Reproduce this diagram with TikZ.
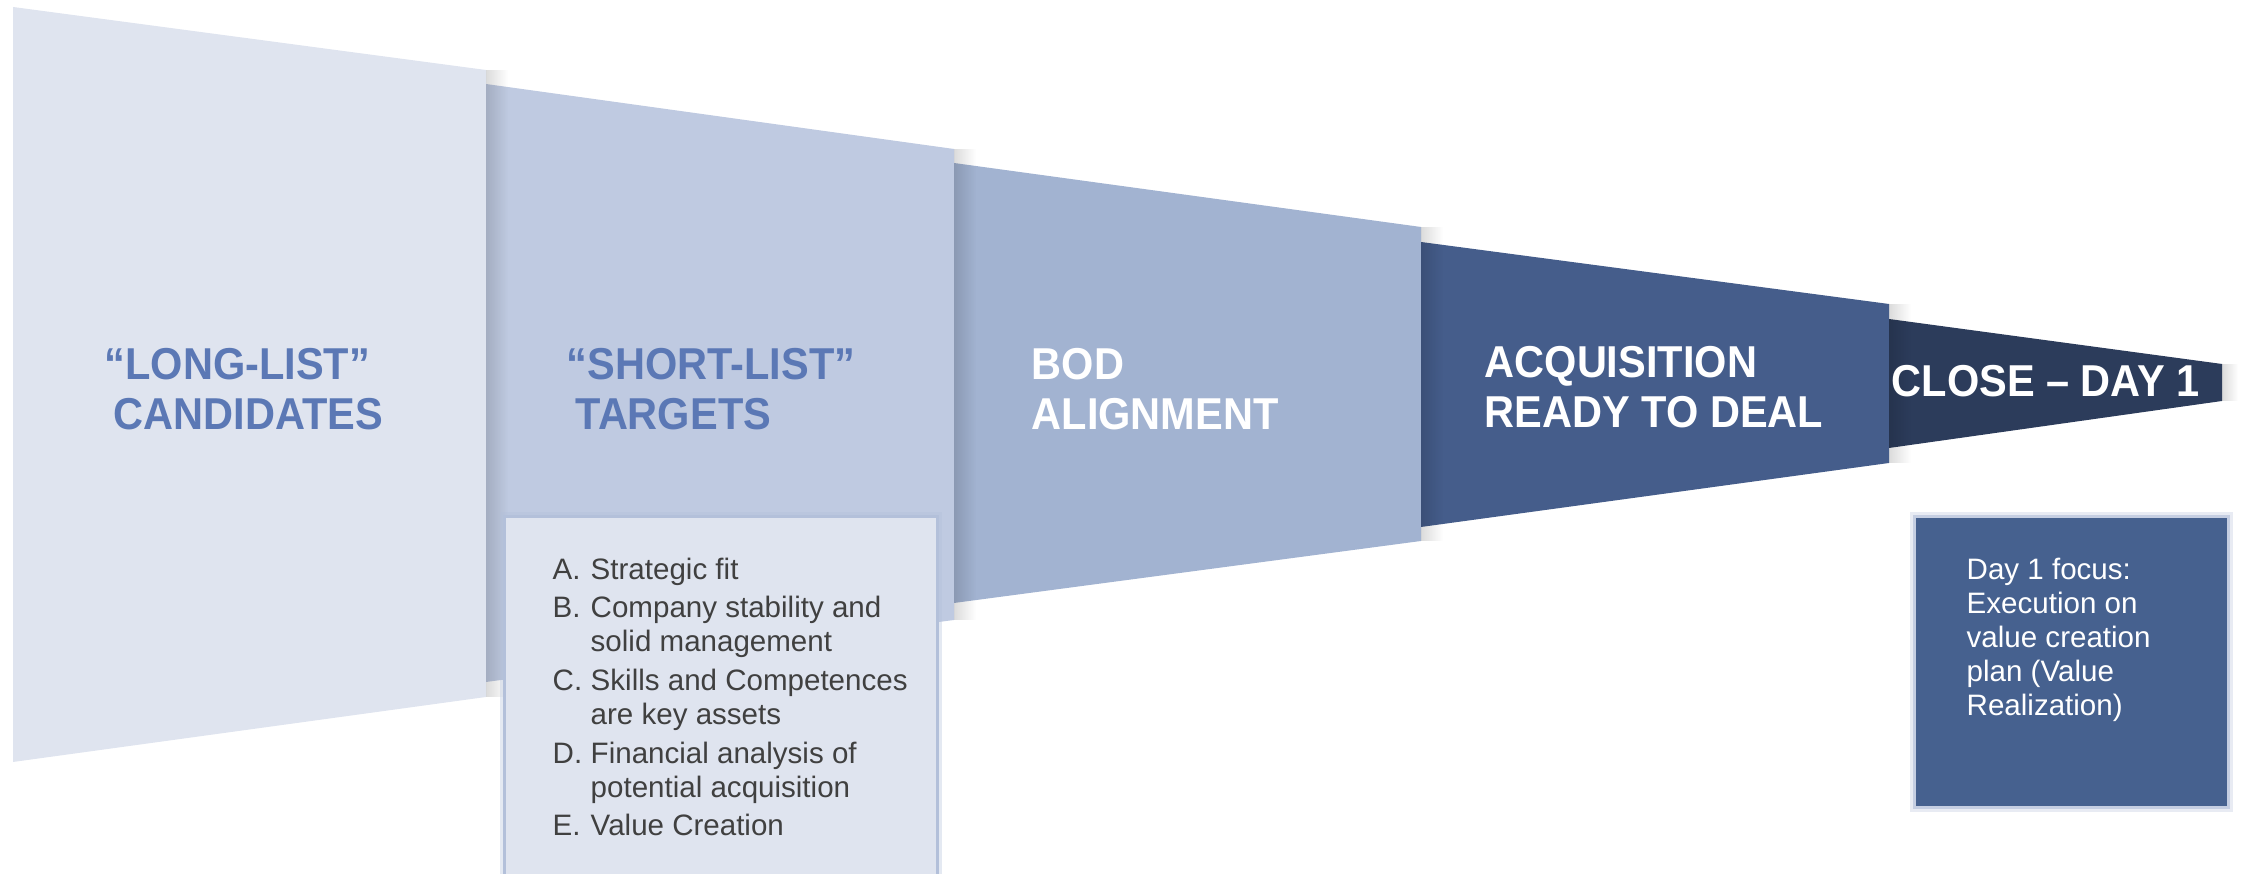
\documentclass[tikz,border=0pt]{standalone}
\usepackage{fontspec}
\setmainfont{Liberation Sans}
\newfontfamily\headfont[FakeStretch=0.93]{Liberation Sans Bold}
\usetikzlibrary{fadings}

\definecolor{funnelA}{HTML}{DFE4EF}
\definecolor{funnelB}{HTML}{BFCAE1}
\definecolor{funnelC}{HTML}{A2B3D1}
\definecolor{funnelD}{HTML}{455D8B}
\definecolor{funnelE}{HTML}{2C3C5B}
\definecolor{headblue}{HTML}{5B78B5}
\definecolor{boxedge}{HTML}{B3C0DA}
\definecolor{focusblue}{HTML}{46618F}
\definecolor{focusedge}{HTML}{C5CEE2}
\definecolor{listgray}{HTML}{404040}

\newcommand{\critlabel}[1]{\makebox[0.38cm][l]{#1}}

\begin{document}
\begin{tikzpicture}[x=0.01cm, y=-0.01cm,
    heading/.style={inner sep=0pt, anchor=north west, align=left, font=\headfont\fontsize{12.7}{14.1}\selectfont},
    body/.style={inner sep=0pt, anchor=north west, align=left, font=\fontsize{8.4}{9.67}\selectfont},
    funnelshadow/.style={fill=black, opacity=0.14, path fading=east},
    listbox/.style={fill=funnelA, draw=boxedge, line width=0.9pt, inner sep=0pt, anchor=north west,
      preaction={draw=boxedge, line width=2.6pt, opacity=0.35}},
    focusbox/.style={fill=focusblue, draw=focusedge, line width=0.9pt, inner sep=0pt, anchor=north west,
      preaction={draw=focusedge, line width=2.6pt, opacity=0.4}}]
  \useasboundingbox (0,0) rectangle (2241,874);

  % funnel stages
  \fill[funnelA] (13,7) -- (486,70) -- (486,697) -- (13,762) -- cycle;
  \fill[funnelB] (486,84) -- (954,149) -- (954,620) -- (486,682) -- cycle;
  \fill[funnelC] (954,163) -- (1421,227) -- (1421,541) -- (954,603) -- cycle;
  \fill[funnelD] (1421,242) -- (1889,304) -- (1889,463) -- (1421,527) -- cycle;
  \fill[funnelE] (1889,319) -- (2222,364) -- (2222,401) -- (1889,448) -- cycle;

  % soft shadows to the right
  \fill[funnelshadow] (486,70) rectangle (508,697);
  \fill[funnelshadow] (954,149) rectangle (976,620);
  \fill[funnelshadow] (1421,227) rectangle (1443,541);
  \fill[funnelshadow] (1889,304) rectangle (1911,463);
  \fill[funnelshadow] (2222,364) rectangle (2238,401);

  % side boxes
  \node (critbox) [listbox, minimum width=4.33cm, minimum height=3.8cm] at (503,515) {};
  \node (focusbox) [focusbox, minimum width=3.14cm, minimum height=2.91cm] at (1913,515) {};

  % stage titles
  \node (long)  [heading, text=headblue] at (113,348) {\hspace*{-0.09cm}“LONG-LIST”\\CANDIDATES};
  \node (short) [heading, text=headblue] at (575,348) {\hspace*{-0.09cm}“SHORT-LIST”\\TARGETS};
  \node (bod)   [heading, text=white] at (1031,348) {BOD\\ALIGNMENT};
  \node (acq)   [heading, text=white] at (1484,346) {ACQUISITION\\READY TO DEAL};
  \node (close) [heading, text=white] at (1891,365) {CLOSE – DAY 1};

  \node (crit) [body, text=listgray] at (552,557) {%
    \critlabel{A.}Strategic fit\\[0.047cm]
    \critlabel{B.}Company stability and\\
    \hspace*{0.38cm}solid management\\[0.047cm]
    \critlabel{C.}Skills and Competences\\
    \hspace*{0.38cm}are key assets\\[0.047cm]
    \critlabel{D.}Financial analysis of\\
    \hspace*{0.38cm}potential acquisition\\[0.047cm]
    \critlabel{E.}Value Creation};
  \node (focus) [body, text=white] at (1966,557) {Day 1 focus:\\Execution on\\value creation\\plan (Value\\Realization)};
\end{tikzpicture}
\end{document}
